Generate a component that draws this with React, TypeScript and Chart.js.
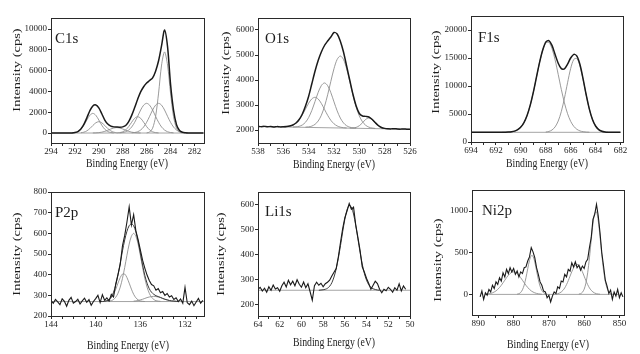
import React, { useEffect, useRef } from "react";
import { Chart, registerables } from "chart.js";

Chart.register(...registerables);
Chart.defaults.font.family = '"Liberation Serif", "Times New Roman", serif';

const _ = null;

/* ---------------- C1s ---------------- */
const c1sEnergy = [294, 293.75, 293.5, 293.25, 293, 292.75, 292.5, 292.25, 292, 291.75,
  291.5, 291.25, 291, 290.75, 290.5, 290.25, 290, 289.75, 289.5, 289.25,
  289, 288.75, 288.5, 288.25, 288, 287.75, 287.5, 287.25, 287, 286.75,
  286.5, 286.25, 286, 285.75, 285.5, 285.25, 285, 284.75, 284.5, 284.25,
  284, 283.75, 283.5, 283.25, 283, 282.75, 282.5, 282.25, 282, 281.75,
  281.5, 281.25];
const c1sEnvelope = [0, 0, 0, 0, 0, 0, 5, 12, 46, 143,
  390, 830, 1460, 2140, 2600, 2700, 2420, 1850, 1250, 860,
  660, 590, 570, 560, 590, 720, 1100, 1700, 2450, 3250,
  3950, 4450, 4800, 5050, 5300, 5950, 6950, 8400, 9900, 8300,
  4700, 2200, 800, 240, 70, 20, 0, 0, 0, 0,
  0, 0];
const c1sPeakA = [_, _, _, _, _, _, _, 12, 46, 143,
  361, 747, 1251, 1705, 1890, 1705, 1251, 747, 361, 143,
  46, 12];
const c1sPeakB = [_, _, _, _, _, _, _, _, _, _,
  26, 82, 208, 431, 722, 983, 1090, 983, 722, 431,
  208, 82, 26];
const c1sPeakC = [_, _, _, _, _, _, _, _, _, _,
  _, _, _, _, 5, 14, 36, 82, 159, 267,
  387, 483, 520, 483, 387, 267, 159, 82, 36, 14,
  5];
const c1sPeakD = [_, _, _, _, _, _, _, _, _, _,
  _, _, _, _, _, _, _, _, _, _,
  _, _, 10, 38, 119, 300, 620, 1039, 1416, 1570,
  1416, 1039, 620, 300, 119, 38, 10];
const c1sPeakE = [_, _, _, _, _, _, _, _, _, _,
  _, _, _, _, _, _, _, _, _, _,
  _, _, _, 16, 49, 126, 288, 580, 1028, 1607,
  2213, 2678, 2855, 2678, 2213, 1607, 1028, 580, 288, 126,
  49, 16];
const c1sPeakF = [_, _, _, _, _, _, _, _, _, _,
  _, _, _, _, _, _, _, _, _, _,
  _, _, _, _, _, _, _, 16, 49, 126,
  288, 580, 1028, 1607, 2213, 2678, 2855, 2678, 2213, 1607,
  1028, 580, 288, 126, 49, 16];
const c1sPeakG = [_, _, _, _, _, _, _, _, _, _,
  _, _, _, _, _, _, _, _, _, _,
  _, _, _, _, _, _, _, _, _, _,
  _, _, 13, 93, 459, 1583, 3838, 6536, 7800, 6536,
  3838, 1583, 459, 93, 13];
const c1sBaseEnergy = [294, 281.2];
const c1sBaseline = [0, 0];
const c1sXTicks = [294, 293, 292, 291, 290, 289, 288, 287, 286, 285, 284, 283, 282];
const c1sXLabels = [294, 292, 290, 288, 286, 284, 282];
const c1sYTicks = [0, 2000, 4000, 6000, 8000, 10000];

/* ---------------- O1s ---------------- */
const o1sEnergy = [538, 537.75, 537.5, 537.25, 537, 536.75, 536.5, 536.25, 536, 535.75,
  535.5, 535.25, 535, 534.75, 534.5, 534.25, 534, 533.75, 533.5, 533.25,
  533, 532.75, 532.5, 532.25, 532, 531.75, 531.5, 531.25, 531, 530.75,
  530.5, 530.25, 530, 529.75, 529.5, 529.25, 529, 528.75, 528.5, 528.25,
  528, 527.75, 527.5, 527.25, 527, 526.75, 526.5, 526.25, 526];
const o1sEnvelope = [2150, 2135, 2145, 2130, 2140, 2120, 2135, 2125, 2130, 2140,
  2160, 2200, 2280, 2420, 2640, 2960, 3350, 3850, 4350, 4780,
  5120, 5380, 5560, 5720, 5900, 5840, 5550, 5120, 4550, 3980,
  3420, 2960, 2660, 2560, 2545, 2520, 2430, 2300, 2180, 2100,
  2065, 2050, 2045, 2052, 2040, 2035, 2042, 2030, 2035];
const o1sPeak1 = [_, _, _, _, _, _, _, _, 2127, 2132,
  2152, 2194, 2275, 2411, 2605, 2840, 3072, 3246, 3309, 3241,
  3063, 2826, 2587, 2388, 2248, 2162, 2115, 2091, 2081];
const o1sPeak2 = [_, _, _, _, _, _, _, _, _, _,
  _, 2119, 2126, 2148, 2201, 2310, 2500, 2783, 3139, 3503,
  3778, 3882, 3774, 3494, 3125, 2765, 2477, 2282, 2169, 2112,
  2085, 2073];
const o1sPeak3 = [_, _, _, _, _, _, _, _, _, _,
  _, _, _, _, _, 2114, 2125, 2156, 2226, 2359,
  2589, 2942, 3409, 3945, 4455, 4825, 4960, 4820, 4446, 3932,
  3390, 2919, 2562, 2327, 2189, 2115, 2079, 2063];
const o1sPeak4 = [_, _, _, _, _, _, _, _, _, _,
  _, _, _, _, _, _, _, _, _, _,
  _, _, _, _, _, _, _, _, _, 2076,
  2080, 2105, 2172, 2290, 2422, 2480, 2417, 2281, 2158, 2087,
  2057, 2048];
const o1sBaseEnergy = [538, 526];
const o1sBaseline = [2140, 2030];
const o1sXTicks = [538, 537, 536, 535, 534, 533, 532, 531, 530, 529, 528, 527, 526];
const o1sXLabels = [538, 536, 534, 532, 530, 528, 526];
const o1sYTicks = [2000, 3000, 4000, 5000, 6000];

/* ---------------- F1s ---------------- */
const f1sEnergy = [694, 693.75, 693.5, 693.25, 693, 692.75, 692.5, 692.25, 692, 691.75,
  691.5, 691.25, 691, 690.75, 690.5, 690.25, 690, 689.75, 689.5, 689.25,
  689, 688.75, 688.5, 688.25, 688, 687.75, 687.5, 687.25, 687, 686.75,
  686.5, 686.25, 686, 685.75, 685.5, 685.25, 685, 684.75, 684.5, 684.25,
  684, 683.75, 683.5, 683.25, 683, 682.75, 682.5, 682.25, 682];
const f1sEnvelope = [1740, 1735, 1730, 1735, 1730, 1730, 1735, 1730, 1730, 1732,
  1734, 1743, 1765, 1820, 1941, 2191, 2662, 3469, 4734, 6543,
  8868, 11534, 14170, 16377, 17850, 18100, 17250, 15629, 14074, 13096,
  13070, 13902, 15000, 15650, 15350, 13803, 11240, 8396, 5882, 4030,
  2857, 2219, 1919, 1795, 1750, 1738, 1735, 1730, 1735];
const f1sPeak1 = [_, _, _, _, _, _, _, _, _, _,
  1734, 1743, 1765, 1820, 1941, 2191, 2662, 3469, 4734, 6543,
  8868, 11525, 14166, 16362, 17654, 17780, 16701, 14666, 12066, 9385,
  6979, 5057, 3684, 2791, 2265, 1979, 1837, 1773, 1746];
const f1sPeak2 = [_, _, _, _, _, _, _, _, _, _,
  _, _, _, _, _, _, _, _, _, _,
  _, _, _, _, 1781, 1884, 2138, 2693, 3738, 5441,
  7821, 10575, 13128, 14744, 14897, 13554, 11133, 8353, 5866, 4018,
  2857, 2219, 1919, 1795, 1750];
const f1sBaseEnergy = [694, 682];
const f1sBaseline = [1730, 1730];
const f1sXTicks = [694, 693, 692, 691, 690, 689, 688, 687, 686, 685, 684, 683, 682];
const f1sXLabels = [694, 692, 690, 688, 686, 684, 682];
const f1sYTicks = [0, 5000, 10000, 15000, 20000];

/* ---------------- P2p ---------------- */
const p2pEnergy = [144, 143.8, 143.6, 143.4, 143.2, 143, 142.8, 142.6, 142.4, 142.2,
  142, 141.8, 141.6, 141.4, 141.2, 141, 140.8, 140.6, 140.4, 140.2,
  140, 139.8, 139.6, 139.4, 139.2, 139, 138.8, 138.6, 138.4, 138.2,
  138, 137.8, 137.6, 137.4, 137.2, 137, 136.8, 136.6, 136.4, 136.2,
  136, 135.8, 135.6, 135.4, 135.2, 135, 134.8, 134.6, 134.4, 134.2,
  134, 133.8, 133.6, 133.4, 133.2, 133, 132.8, 132.6, 132.4, 132.2,
  132, 131.8, 131.6, 131.4, 131.2, 131, 130.8, 130.6, 130.4];
const p2pCounts = [275, 262, 280, 268, 255, 283, 271, 247, 276, 290,
  262, 270, 281, 258, 273, 286, 266, 279, 252, 270,
  284, 300, 265, 303, 276, 288, 272, 305, 292, 356,
  402, 450, 540, 590, 655, 728, 640, 690, 612, 570,
  520, 470, 432, 398, 372, 352, 346, 325, 333, 312,
  318, 300, 309, 292, 298, 280, 288, 270, 282, 262,
  338, 264, 255, 272, 250, 268, 285, 262, 276];
const p2pFit = [_, _, _, _, _, _, _, _, _, _,
  _, _, _, _, _, _, _, _, _, _,
  _, _, 270, 270, 271, 274, 280, 292, 315, 351,
  399, 456, 515, 568, 610, 637, 646, 637, 607, 561,
  505, 447, 397, 359, 332, 315, 305, 298, 294, 290,
  285, 281, 278, 275, 273, 272, 271, 270];
const p2pPeak1 = [_, _, _, _, _, _, _, _, _, _,
  _, _, _, _, _, _, _, _, _, _,
  _, _, _, _, _, 271, 272, 274, 280, 291,
  310, 340, 382, 435, 494, 548, 586, 600, 586, 548,
  494, 435, 382, 340, 310, 291, 280, 274, 272, 271];
const p2pPeak2 = [_, _, _, _, _, _, _, _, _, _,
  _, _, _, _, _, _, _, _, _, _,
  _, _, _, 270, 271, 273, 278, 288, 305, 330,
  359, 386, 403, 403, 386, 359, 330, 305, 288, 278,
  273, 271, 270];
const p2pPeak3 = [_, _, _, _, _, _, _, _, _, _,
  _, _, _, _, _, _, _, _, _, _,
  _, _, _, _, _, _, _, _, _, _,
  _, _, _, _, _, _, _, 272, 273, 275,
  278, 281, 285, 289, 292, 294, 295, 294, 292, 289,
  285, 281, 278, 275, 273, 272, 271];
const p2pBaseEnergy = [144, 130.3];
const p2pBaseline = [270, 270];
const p2pXTicks = [144, 143, 142, 141, 140, 139, 138, 137, 136, 135, 134, 133, 132, 131];
const p2pXLabels = [144, 140, 136, 132];
const p2pYTicks = [200, 300, 400, 500, 600, 700, 800];

/* ---------------- Li1s ---------------- */
const li1sEnergy = [64, 63.8, 63.6, 63.4, 63.2, 63, 62.8, 62.6, 62.4, 62.2,
  62, 61.8, 61.6, 61.4, 61.2, 61, 60.8, 60.6, 60.4, 60.2,
  60, 59.8, 59.6, 59.4, 59.2, 59, 58.8, 58.6, 58.4, 58.2,
  58, 57.8, 57.6, 57.4, 57.2, 57, 56.8, 56.6, 56.4, 56.2,
  56, 55.8, 55.6, 55.4, 55.2, 55, 54.8, 54.6, 54.4, 54.2,
  54, 53.8, 53.6, 53.4, 53.2, 53, 52.8, 52.6, 52.4, 52.2,
  52, 51.8, 51.6, 51.4, 51.2, 51, 50.8, 50.6, 50.4];
const li1sCounts = [262, 270, 255, 266, 250, 272, 258, 279, 263, 268,
  254, 276, 290, 271, 298, 280, 294, 276, 300, 282,
  270, 291, 268, 284, 252, 218, 276, 290, 278, 286,
  272, 284, 290, 298, 315, 330, 345, 392, 450, 505,
  548, 575, 605, 582, 590, 520, 470, 418, 352, 330,
  305, 285, 262, 278, 294, 285, 262, 248, 262, 256,
  270, 262, 250, 268, 258, 284, 255, 275, 262];
const li1sFit = [_, _, _, _, _, _, _, _, _, _,
  _, _, _, _, _, _, _, _, _, _,
  _, _, _, _, _, _, _, _, 258, 259,
  260, 262, 266, 274, 288, 311, 343, 386, 437, 492,
  542, 580, 597, 591, 563, 518, 464, 410, 363, 325,
  298, 280, 270, 264, 261, 259, 258];
const li1sBaseEnergy = [64, 50];
const li1sBaseline = [258, 258];
const li1sXTicks = [64, 63, 62, 61, 60, 59, 58, 57, 56, 55, 54, 53, 52, 51, 50];
const li1sXLabels = [64, 62, 60, 58, 56, 54, 52, 50];
const li1sYTicks = [200, 300, 400, 500, 600];

/* ---------------- Ni2p ---------------- */
const ni2pEnergy = [889.5, 889, 888.5, 888, 887.5, 887, 886.5, 886, 885.5, 885,
  884.5, 884, 883.5, 883, 882.5, 882, 881.5, 881, 880.5, 880,
  879.5, 879, 878.5, 878, 877.5, 877, 876.5, 876, 875.5, 875,
  874.5, 874, 873.5, 873, 872.5, 872, 871.5, 871, 870.5, 870,
  869.5, 869, 868.5, 868, 867.5, 867, 866.5, 866, 865.5, 865,
  864.5, 864, 863.5, 863, 862.5, 862, 861.5, 861, 860.5, 860,
  859.5, 859, 858.5, 858, 857.5, 857, 856.5, 856, 855.5, 855,
  854.5, 854, 853.5, 853, 852.5, 852, 851.5, 851, 850.5, 850,
  849.5, 849];
const ni2pCounts = [-30, 40, -60, 20, -10, 60, 30, 110, 70, 150,
  120, 200, 160, 260, 210, 300, 250, 320, 270, 310,
  240, 280, 210, 270, 250, 320, 330, 400, 450, 560,
  510, 440, 320, 240, 150, 110, 40, 30, -40, -10,
  -90, -20, 30, 10, 90, 70, 160, 150, 240, 210,
  300, 280, 380, 330, 390, 320, 350, 290, 340, 310,
  390, 420, 560, 680, 900, 960, 1080, 940, 740, 500,
  340, 170, 100, 10, 50, -60, 30, -20, 60, -40,
  20, -30];
const ni2pPeak1 = [_, _, _, 2, 4, 7, 12, 19, 29, 42,
  60, 83, 109, 139, 170, 201, 229, 251, 265, 270,
  265, 251, 229, 201, 170, 139, 109, 83, 60, 42,
  29, 19, 12, 7, 4, 2];
const ni2pPeak2 = [_, _, _, _, _, _, _, _, _, _,
  _, _, _, _, _, _, _, _, _, _,
  _, 3, 8, 23, 55, 112, 200, 307, 407, 464,
  458, 389, 285, 180, 98, 46, 19, 7, 2];
const ni2pPeak3 = [_, _, _, _, _, _, _, _, _, _,
  _, _, _, _, _, _, _, _, _, _,
  _, _, _, _, _, _, _, _, _, _,
  _, _, _, _, _, _, _, _, _, _,
  _, _, 2, 4, 8, 16, 29, 49, 78, 117,
  165, 219, 272, 318, 349, 360, 349, 318, 272, 219,
  165, 117, 78, 49, 29, 16, 8, 4, 2];
const ni2pPeak4 = [_, _, _, _, _, _, _, _, _, _,
  _, _, _, _, _, _, _, _, _, _,
  _, _, _, _, _, _, _, _, _, _,
  _, _, _, _, _, _, _, _, _, _,
  _, _, _, _, _, _, _, _, _, _,
  _, _, _, _, _, _, 3, 9, 25, 62,
  135, 259, 438, 650, 849, 977, 990, 882, 693, 478,
  291, 156, 73, 30, 11, 4];
const ni2pBaseEnergy = [888, 850];
const ni2pBaseline = [0, 0];
const ni2pXTicks = [890, 885, 880, 875, 870, 865, 860, 855, 850];
const ni2pXLabels = [890, 880, 870, 860, 850];
const ni2pYTicks = [0, 500, 1000];

/* ---------------- panel configuration ---------------- */
type Kind = "env" | "noisy" | "fit" | "comp" | "base";
type Series = { x: number[]; y: (number | null)[]; kind: Kind };
type Panel = {
  label: string;
  plot: { l: number; t: number; r: number; b: number };
  xMin: number; xMax: number; yMin: number; yMax: number;
  xTicks: number[]; xLabels: number[]; yTicks: number[];
  series: Series[];
  labelPos: [number, number];
  xTitlePos: [number, number];
  yTitlePos: [number, number];
};

const panels: Panel[] = [
  {
    label: "C1s", plot: { l: 51, t: 18, r: 204, b: 143 },
    xMin: 281.2, xMax: 294, yMin: -960, yMax: 11060,
    xTicks: c1sXTicks, xLabels: c1sXLabels, yTicks: c1sYTicks,
    series: [
      { x: c1sEnergy, y: c1sEnvelope, kind: "env" },
      { x: c1sEnergy, y: c1sPeakA, kind: "comp" },
      { x: c1sEnergy, y: c1sPeakB, kind: "comp" },
      { x: c1sEnergy, y: c1sPeakC, kind: "comp" },
      { x: c1sEnergy, y: c1sPeakD, kind: "comp" },
      { x: c1sEnergy, y: c1sPeakE, kind: "comp" },
      { x: c1sEnergy, y: c1sPeakF, kind: "comp" },
      { x: c1sEnergy, y: c1sPeakG, kind: "comp" },
      { x: c1sBaseEnergy, y: c1sBaseline, kind: "base" },
    ],
    labelPos: [55, 43], xTitlePos: [127, 164], yTitlePos: [17, 70],
  },
  {
    label: "O1s", plot: { l: 258, t: 18, r: 410, b: 143 },
    xMin: 526, xMax: 538, yMin: 1480, yMax: 6480,
    xTicks: o1sXTicks, xLabels: o1sXLabels, yTicks: o1sYTicks,
    series: [
      { x: o1sEnergy, y: o1sEnvelope, kind: "env" },
      { x: o1sEnergy, y: o1sPeak1, kind: "comp" },
      { x: o1sEnergy, y: o1sPeak2, kind: "comp" },
      { x: o1sEnergy, y: o1sPeak3, kind: "comp" },
      { x: o1sEnergy, y: o1sPeak4, kind: "comp" },
      { x: o1sBaseEnergy, y: o1sBaseline, kind: "base" },
    ],
    labelPos: [265, 43], xTitlePos: [334, 165], yTitlePos: [226, 73],
  },
  {
    label: "F1s", plot: { l: 471, t: 16, r: 623, b: 142 },
    xMin: 681.8, xMax: 694, yMin: 0, yMax: 22500,
    xTicks: f1sXTicks, xLabels: f1sXLabels, yTicks: f1sYTicks,
    series: [
      { x: f1sEnergy, y: f1sEnvelope, kind: "env" },
      { x: f1sEnergy, y: f1sPeak1, kind: "comp" },
      { x: f1sEnergy, y: f1sPeak2, kind: "comp" },
      { x: f1sBaseEnergy, y: f1sBaseline, kind: "base" },
    ],
    labelPos: [478, 42], xTitlePos: [547, 164], yTitlePos: [436, 72],
  },
  {
    label: "P2p", plot: { l: 51, t: 192, r: 204, b: 316 },
    xMin: 130.3, xMax: 144, yMin: 200, yMax: 800,
    xTicks: p2pXTicks, xLabels: p2pXLabels, yTicks: p2pYTicks,
    series: [
      { x: p2pEnergy, y: p2pCounts, kind: "noisy" },
      { x: p2pEnergy, y: p2pFit, kind: "fit" },
      { x: p2pEnergy, y: p2pPeak1, kind: "comp" },
      { x: p2pEnergy, y: p2pPeak2, kind: "comp" },
      { x: p2pEnergy, y: p2pPeak3, kind: "comp" },
      { x: p2pBaseEnergy, y: p2pBaseline, kind: "base" },
    ],
    labelPos: [55, 217], xTitlePos: [128, 346], yTitlePos: [17, 254],
  },
  {
    label: "Li1s", plot: { l: 258, t: 192, r: 410, b: 316 },
    xMin: 50, xMax: 64, yMin: 155, yMax: 651,
    xTicks: li1sXTicks, xLabels: li1sXLabels, yTicks: li1sYTicks,
    series: [
      { x: li1sEnergy, y: li1sCounts, kind: "noisy" },
      { x: li1sEnergy, y: li1sFit, kind: "fit" },
      { x: li1sBaseEnergy, y: li1sBaseline, kind: "base" },
    ],
    labelPos: [265, 216], xTitlePos: [334, 343], yTitlePos: [221, 254],
  },
  {
    label: "Ni2p", plot: { l: 472, t: 190, r: 624, b: 315 },
    xMin: 848.7, xMax: 891.8, yMin: -247, yMax: 1252,
    xTicks: ni2pXTicks, xLabels: ni2pXLabels, yTicks: ni2pYTicks,
    series: [
      { x: ni2pEnergy, y: ni2pCounts, kind: "noisy" },
      { x: ni2pEnergy, y: ni2pPeak1, kind: "comp" },
      { x: ni2pEnergy, y: ni2pPeak2, kind: "comp" },
      { x: ni2pEnergy, y: ni2pPeak3, kind: "comp" },
      { x: ni2pEnergy, y: ni2pPeak4, kind: "comp" },
      { x: ni2pBaseEnergy, y: ni2pBaseline, kind: "base" },
    ],
    labelPos: [482, 215], xTitlePos: [548, 345], yTitlePos: [438, 260],
  },
];

const W = 640;
const H = 354;
const YW = 40;
const XH = 14;
const INK = "#1d1d1d";
const FONT = '"Liberation Serif", "Times New Roman", serif';

const styleFor = (kind: Kind) => {
  switch (kind) {
    case "env": return { borderColor: "#1a1a1a", borderWidth: 1.5, tension: 0.3 };
    case "noisy": return { borderColor: "#1a1a1a", borderWidth: 1.1, tension: 0 };
    case "fit": return { borderColor: "#3a3a3a", borderWidth: 1, tension: 0.3 };
    case "comp": return { borderColor: "#8e8e8e", borderWidth: 0.9, tension: 0.3 };
    default: return { borderColor: "#9a9a9a", borderWidth: 0.9, tension: 0 };
  }
};

const toPoints = (xs: number[], ys: (number | null)[]) =>
  ys.map((y, i) => ({ x: xs[i], y }));

function decorPlugin(p: Panel) {
  return {
    id: "decor",
    afterDraw(chart: any) {
      const { ctx, chartArea: a } = chart;
      ctx.save();
      ctx.strokeStyle = "#2a2a2a";
      ctx.lineWidth = 1;
      ctx.strokeRect(Math.floor(a.left) + 0.5, Math.floor(a.top) + 0.5,
        Math.round(a.right - a.left), Math.round(a.bottom - a.top));
      ctx.fillStyle = INK;
      ctx.font = `15px ${FONT}`;
      ctx.textAlign = "left";
      ctx.textBaseline = "alphabetic";
      ctx.fillText(p.label, p.labelPos[0], p.labelPos[1]);
      // x title
      ctx.save();
      ctx.translate(p.xTitlePos[0], p.xTitlePos[1]);
      ctx.scale(0.75, 1);
      ctx.font = `13px ${FONT}`;
      ctx.textAlign = "center";
      ctx.textBaseline = "middle";
      ctx.fillText("Binding Energy (eV)", 0, 0);
      ctx.restore();
      // y title
      ctx.save();
      ctx.translate(p.yTitlePos[0], p.yTitlePos[1]);
      ctx.rotate(-Math.PI / 2);
      ctx.scale(1, 0.75);
      ctx.font = `14.5px ${FONT}`;
      ctx.textAlign = "center";
      ctx.textBaseline = "middle";
      ctx.fillText("Intensity (cps)", 0, 0);
      ctx.restore();
      ctx.restore();
    },
  };
}

function buildConfig(p: Panel): any {
  const tickFont = { family: FONT, size: 9 };
  return {
    type: "line",
    data: {
      datasets: p.series.map((s) => ({
        data: toPoints(s.x, s.y),
        ...styleFor(s.kind),
        pointRadius: 0,
        fill: false,
        spanGaps: false,
      })),
    },
    options: {
      responsive: false,
      animation: false,
      devicePixelRatio: 1,
      events: [],
      layout: {
        padding: {
          left: p.plot.l - YW,
          top: p.plot.t,
          right: W - p.plot.r,
          bottom: H - p.plot.b - XH,
        },
      },
      plugins: { legend: { display: false }, tooltip: { enabled: false }, title: { display: false } },
      scales: {
        x: {
          type: "linear",
          reverse: true,
          min: p.xMin,
          max: p.xMax,
          afterFit: (s: any) => { s.height = XH; },
          afterBuildTicks: (s: any) => { s.ticks = p.xTicks.map((v) => ({ value: v })); },
          ticks: {
            autoSkip: false,
            maxRotation: 0,
            padding: 0,
            color: INK,
            font: tickFont,
            callback: (v: any) => (p.xLabels.includes(Number(v)) ? String(v) : ""),
          },
          grid: { display: true, drawOnChartArea: false, drawTicks: true, tickLength: 3, color: "#2a2a2a" },
          border: { display: false },
        },
        y: {
          type: "linear",
          min: p.yMin,
          max: p.yMax,
          afterFit: (s: any) => { s.width = YW; },
          afterBuildTicks: (s: any) => { s.ticks = p.yTicks.map((v) => ({ value: v })); },
          ticks: {
            autoSkip: false,
            padding: 1,
            color: INK,
            font: tickFont,
            callback: (v: any) => String(v),
          },
          grid: { display: true, drawOnChartArea: false, drawTicks: true, tickLength: 3, color: "#2a2a2a" },
          border: { display: false },
        },
      },
    },
    plugins: [decorPlugin(p)],
  };
}

function PanelChart({ panel }: { panel: Panel }) {
  const ref = useRef<HTMLCanvasElement | null>(null);
  useEffect(() => {
    if (!ref.current) return;
    const chart = new Chart(ref.current, buildConfig(panel));
    return () => chart.destroy();
  }, [panel]);
  return (
    <canvas
      ref={ref}
      width={W}
      height={H}
      style={{ position: "absolute", left: 0, top: 0, width: W, height: H }}
    />
  );
}

export default function App() {
  return (
    <div
      style={{
        position: "fixed",
        left: 0,
        top: 0,
        width: W,
        height: H,
        background: "#ffffff",
        overflow: "hidden",
      }}
    >
      {panels.map((p) => (
        <PanelChart key={p.label} panel={p} />
      ))}
    </div>
  );
}
